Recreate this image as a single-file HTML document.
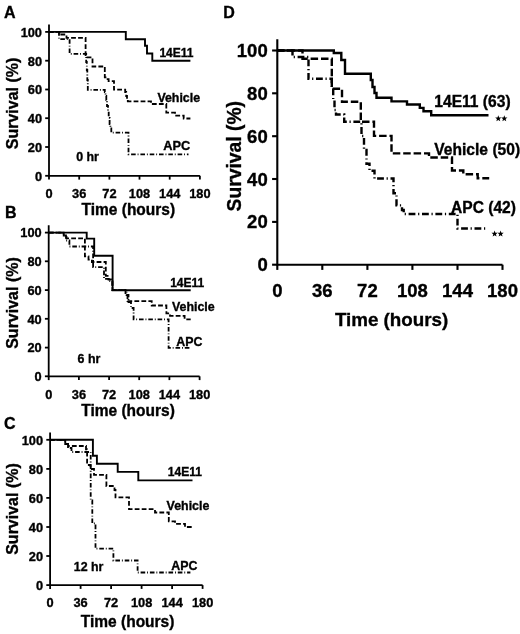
<!DOCTYPE html>
<html><head><meta charset="utf-8"><style>
html,body{margin:0;padding:0;background:#fff;}
svg{display:block;will-change:transform;}
text{font-family:"Liberation Sans", sans-serif;font-weight:bold;fill:#000;stroke:#000;stroke-width:0.35px;}
.tk{font-size:12.8px;}
.at{font-size:15.5px;}
.yt{font-size:16px;}
.ytD{font-size:19.3px;}
.cl{font-size:12.4px;}
.cla{font-size:12.8px;}
.cle{font-size:12px;}
.pl{font-size:16px;}
.tkD{font-size:18.5px;}
.atD{font-size:18.8px;}
.clD{font-size:15.6px;}
.stD{font-size:12px;}
.ax{stroke:#000;stroke-width:1.8;fill:none;}
.axD{stroke:#000;stroke-width:2.1;fill:none;}
.s{stroke:#000;stroke-width:1.9;fill:none;}
.d{stroke:#000;stroke-width:1.8;fill:none;stroke-dasharray:4.8 2.2;}
.dd{stroke:#000;stroke-width:1.8;fill:none;stroke-dasharray:4.6 1.9 0.9 1.9;}
.sD{stroke:#000;stroke-width:2.4;fill:none;}
.dD{stroke:#000;stroke-width:2.4;fill:none;stroke-dasharray:7.5 2.9;}
.ddD{stroke:#000;stroke-width:2.4;fill:none;stroke-dasharray:6.8 2.7 1.2 2.7;}
</style></head><body>
<svg width="520" height="634" viewBox="0 0 520 634">
<path d="M49.0,24.5 V175.8 H199.9" class="ax"/>
<path d="M45.2,175.8 H49.0" class="ax"/>
<text x="42.0" y="180.6" class="tk" text-anchor="end">0</text>
<path d="M45.2,147.0 H49.0" class="ax"/>
<text x="42.0" y="151.8" class="tk" text-anchor="end">20</text>
<path d="M45.2,118.2 H49.0" class="ax"/>
<text x="42.0" y="123.0" class="tk" text-anchor="end">40</text>
<path d="M45.2,89.5 H49.0" class="ax"/>
<text x="42.0" y="94.3" class="tk" text-anchor="end">60</text>
<path d="M45.2,60.7 H49.0" class="ax"/>
<text x="42.0" y="65.5" class="tk" text-anchor="end">80</text>
<path d="M45.2,31.9 H49.0" class="ax"/>
<text x="42.0" y="36.7" class="tk" text-anchor="end">100</text>
<path d="M49.0,175.8 V179.6" class="ax"/>
<text x="49.0" y="198.3" class="tk" text-anchor="middle">0</text>
<path d="M79.2,175.8 V179.6" class="ax"/>
<text x="79.2" y="198.3" class="tk" text-anchor="middle">36</text>
<path d="M109.4,175.8 V179.6" class="ax"/>
<text x="109.4" y="198.3" class="tk" text-anchor="middle">72</text>
<path d="M139.5,175.8 V179.6" class="ax"/>
<text x="139.5" y="198.3" class="tk" text-anchor="middle">108</text>
<path d="M169.7,175.8 V179.6" class="ax"/>
<text x="169.7" y="198.3" class="tk" text-anchor="middle">144</text>
<path d="M199.9,175.8 V179.6" class="ax"/>
<text x="199.9" y="198.3" class="tk" text-anchor="middle">180</text>
<text transform="translate(128.3,215.2) scale(1,1.06)" class="at" text-anchor="middle">Time (hours)</text>
<text transform="translate(17.9,103.4) rotate(-90)" class="yt" text-anchor="middle">Survival (%)</text>
<path d="M49.0,31.9 L125.8,31.9 L125.8,39.2 L145.0,39.2 L145.0,45.8 L147.0,45.8 L147.0,53.5 L152.3,53.5 L152.3,60.7 L190.4,60.7" class="s"/>
<path d="M49.0,31.9 L59.5,31.9 L59.5,34.5 L66.5,34.5 L66.5,37.8 L85.6,37.8 L85.6,57.3 L92.5,57.3 L92.5,66.5 L104.8,66.5 L104.8,77.3 L106.6,77.3 L106.6,79.2 L108.6,79.2 L108.6,81.1 L114.0,81.1 L114.0,89.7 L125.2,89.7 L125.2,92.0 L126.2,92.0 L126.2,96.0 L127.0,96.0 L127.0,99.0 L127.8,99.0 L127.8,101.3 L151.0,101.3 L151.0,104.0 L166.3,104.0 L166.3,112.7 L175.0,112.7 L175.0,115.6 L183.7,115.6 L183.7,118.5 L190.4,118.5" class="d"/>
<path d="M49.0,31.9 L59.0,31.9 L59.0,39.2 L69.6,39.2 L69.6,53.8 L86.2,53.8 L86.2,62.0 L86.8,62.0 L86.8,70.0 L87.3,70.0 L87.3,80.0 L87.8,80.0 L87.8,89.8 L104.8,89.8 L104.8,92.0 L105.5,92.0 L105.5,96.0 L106.3,96.0 L106.3,100.0 L107.0,100.0 L107.0,106.0 L108.0,106.0 L108.0,111.0 L108.7,111.0 L108.7,118.0 L109.6,118.0 L109.6,124.0 L110.4,124.0 L110.4,128.5 L111.3,128.5 L111.3,132.7 L128.5,132.7 L128.5,154.4 L188.5,154.4" class="dd"/>
<text x="159.4" y="57.4" class="cle">14E11</text>
<text x="157.4" y="101.9" class="cl">Vehicle</text>
<text x="163.3" y="150.0" class="cla">APC</text>
<text x="76.2" y="161.4" class="cl">0 hr</text>
<path d="M48.7,225.2 V376.3 H199.6" class="ax"/>
<path d="M44.9,376.3 H48.7" class="ax"/>
<text x="41.7" y="381.1" class="tk" text-anchor="end">0</text>
<path d="M44.9,347.6 H48.7" class="ax"/>
<text x="41.7" y="352.4" class="tk" text-anchor="end">20</text>
<path d="M44.9,318.8 H48.7" class="ax"/>
<text x="41.7" y="323.6" class="tk" text-anchor="end">40</text>
<path d="M44.9,290.1 H48.7" class="ax"/>
<text x="41.7" y="294.9" class="tk" text-anchor="end">60</text>
<path d="M44.9,261.3 H48.7" class="ax"/>
<text x="41.7" y="266.1" class="tk" text-anchor="end">80</text>
<path d="M44.9,232.6 H48.7" class="ax"/>
<text x="41.7" y="237.4" class="tk" text-anchor="end">100</text>
<path d="M48.7,376.3 V380.1" class="ax"/>
<text x="48.7" y="398.9" class="tk" text-anchor="middle">0</text>
<path d="M78.9,376.3 V380.1" class="ax"/>
<text x="78.9" y="398.9" class="tk" text-anchor="middle">36</text>
<path d="M109.1,376.3 V380.1" class="ax"/>
<text x="109.1" y="398.9" class="tk" text-anchor="middle">72</text>
<path d="M139.2,376.3 V380.1" class="ax"/>
<text x="139.2" y="398.9" class="tk" text-anchor="middle">108</text>
<path d="M169.4,376.3 V380.1" class="ax"/>
<text x="169.4" y="398.9" class="tk" text-anchor="middle">144</text>
<path d="M199.6,376.3 V380.1" class="ax"/>
<text x="199.6" y="398.9" class="tk" text-anchor="middle">180</text>
<text transform="translate(128.0,416.4) scale(1,1.06)" class="at" text-anchor="middle">Time (hours)</text>
<text transform="translate(17.6,303.0) rotate(-90)" class="yt" text-anchor="middle">Survival (%)</text>
<path d="M49.0,232.6 L86.7,232.6 L86.7,238.6 L94.2,238.6 L94.2,255.7 L112.6,255.7 L112.6,290.2 L190.7,290.2" class="s"/>
<path d="M49.0,232.6 L63.7,232.6 L63.7,235.5 L66.5,235.5 L66.5,238.4 L84.9,238.4 L84.9,256.3 L88.5,256.3 L88.5,259.7 L91.9,259.7 L91.9,262.0 L105.8,262.0 L105.8,275.9 L108.5,275.9 L108.5,279.5 L112.4,279.5 L112.4,290.2 L125.5,290.2 L125.5,294.0 L127.5,294.0 L127.5,301.2 L151.7,301.2 L151.7,305.5 L166.4,305.5 L166.4,313.3 L170.0,313.3 L170.0,315.9 L184.6,315.9 L184.6,319.3 L190.7,319.3" class="d"/>
<path d="M49.0,232.6 L63.7,232.6 L63.7,235.5 L66.0,235.5 L66.0,240.5 L69.4,240.5 L69.4,246.5 L93.1,246.5 L93.1,267.2 L104.0,267.2 L104.0,278.8 L108.6,278.8 L108.6,281.1 L112.4,281.1 L112.4,290.2 L126.6,290.2 L126.6,295.0 L128.5,295.0 L128.5,302.0 L131.0,302.0 L131.0,308.0 L133.6,308.0 L133.6,319.3 L168.6,319.3 L168.6,347.9 L190.7,347.9" class="dd"/>
<text x="170.2" y="286.8" class="cle">14E11</text>
<text x="172.0" y="311.0" class="cl">Vehicle</text>
<text x="176.2" y="345.7" class="cl">APC</text>
<text x="77.6" y="363.0" class="cl">6 hr</text>
<path d="M50.1,432.4 V585.1 H202.6" class="ax"/>
<path d="M46.3,585.1 H50.1" class="ax"/>
<text x="43.1" y="589.9" class="tk" text-anchor="end">0</text>
<path d="M46.3,556.0 H50.1" class="ax"/>
<text x="43.1" y="560.8" class="tk" text-anchor="end">20</text>
<path d="M46.3,527.0 H50.1" class="ax"/>
<text x="43.1" y="531.8" class="tk" text-anchor="end">40</text>
<path d="M46.3,497.9 H50.1" class="ax"/>
<text x="43.1" y="502.7" class="tk" text-anchor="end">60</text>
<path d="M46.3,468.9 H50.1" class="ax"/>
<text x="43.1" y="473.7" class="tk" text-anchor="end">80</text>
<path d="M46.3,439.8 H50.1" class="ax"/>
<text x="43.1" y="444.6" class="tk" text-anchor="end">100</text>
<path d="M50.1,585.1 V588.9" class="ax"/>
<text x="50.1" y="607.3" class="tk" text-anchor="middle">0</text>
<path d="M80.6,585.1 V588.9" class="ax"/>
<text x="80.6" y="607.3" class="tk" text-anchor="middle">36</text>
<path d="M111.1,585.1 V588.9" class="ax"/>
<text x="111.1" y="607.3" class="tk" text-anchor="middle">72</text>
<path d="M141.6,585.1 V588.9" class="ax"/>
<text x="141.6" y="607.3" class="tk" text-anchor="middle">108</text>
<path d="M172.1,585.1 V588.9" class="ax"/>
<text x="172.1" y="607.3" class="tk" text-anchor="middle">144</text>
<path d="M202.6,585.1 V588.9" class="ax"/>
<text x="202.6" y="607.3" class="tk" text-anchor="middle">180</text>
<text transform="translate(127.6,627.1) scale(1,1.06)" class="at" text-anchor="middle">Time (hours)</text>
<text transform="translate(17.9,509.0) rotate(-90)" class="yt" text-anchor="middle">Survival (%)</text>
<path d="M50.1,439.8 L92.9,439.8 L92.9,455.8 L96.9,455.8 L96.9,463.8 L117.7,463.8 L117.7,471.9 L138.3,471.9 L138.3,480.4 L192.5,480.4" class="s"/>
<path d="M50.1,439.8 L65.2,439.8 L65.2,442.5 L68.0,442.5 L68.0,446.0 L86.0,446.0 L86.0,449.4 L87.1,449.4 L87.1,465.0 L90.5,465.0 L90.5,469.0 L94.0,469.0 L94.0,474.8 L106.4,474.8 L106.4,486.0 L114.5,486.0 L114.5,490.0 L115.5,490.0 L115.5,497.4 L129.0,497.4 L129.0,509.2 L155.0,509.2 L155.0,512.5 L168.8,512.5 L168.8,521.3 L175.0,521.3 L175.0,523.8 L185.0,523.8 L185.0,527.0 L193.8,527.0" class="d"/>
<path d="M50.1,439.8 L65.2,439.8 L65.2,444.0 L68.0,444.0 L68.0,448.0 L71.5,448.0 L71.5,452.0 L90.7,452.0 L90.7,500.5 L92.3,500.5 L92.3,523.4 L95.5,523.4 L95.5,548.7 L113.4,548.7 L113.4,560.5 L137.6,560.5 L137.6,572.5 L190.4,572.5" class="dd"/>
<text x="167.8" y="476.3" class="cle">14E11</text>
<text x="166.6" y="510.2" class="cl">Vehicle</text>
<text x="171.2" y="569.5" class="cl">APC</text>
<text x="73.8" y="570.7" class="cl">12 hr</text>
<path d="M277.3,39.2 V264.7 H502.5" class="axD"/>
<path d="M272.1,264.7 H277.3" class="axD"/>
<text x="267.7" y="271.2" class="tkD" text-anchor="end">0</text>
<path d="M272.1,221.9 H277.3" class="axD"/>
<text x="267.7" y="228.4" class="tkD" text-anchor="end">20</text>
<path d="M272.1,179.0 H277.3" class="axD"/>
<text x="267.7" y="185.5" class="tkD" text-anchor="end">40</text>
<path d="M272.1,136.2 H277.3" class="axD"/>
<text x="267.7" y="142.7" class="tkD" text-anchor="end">60</text>
<path d="M272.1,93.3 H277.3" class="axD"/>
<text x="267.7" y="99.8" class="tkD" text-anchor="end">80</text>
<path d="M272.1,50.5 H277.3" class="axD"/>
<text x="267.7" y="57.0" class="tkD" text-anchor="end">100</text>
<path d="M277.3,264.7 V269.9" class="axD"/>
<text x="277.3" y="297.1" class="tkD" text-anchor="middle">0</text>
<path d="M322.3,264.7 V269.9" class="axD"/>
<text x="322.3" y="297.1" class="tkD" text-anchor="middle">36</text>
<path d="M367.4,264.7 V269.9" class="axD"/>
<text x="367.4" y="297.1" class="tkD" text-anchor="middle">72</text>
<path d="M412.4,264.7 V269.9" class="axD"/>
<text x="412.4" y="297.1" class="tkD" text-anchor="middle">108</text>
<path d="M457.5,264.7 V269.9" class="axD"/>
<text x="457.5" y="297.1" class="tkD" text-anchor="middle">144</text>
<path d="M502.5,264.7 V269.9" class="axD"/>
<text x="502.5" y="297.1" class="tkD" text-anchor="middle">180</text>
<text transform="translate(391.6,326.2) scale(1,1)" class="atD" text-anchor="middle">Time (hours)</text>
<text transform="translate(241.3,156.2) rotate(-90)" class="ytD" text-anchor="middle">Survival (%)</text>
<path d="M277.3,50.5 L333.8,50.5 L333.8,53.0 L341.3,53.0 L341.3,60.0 L345.0,60.0 L345.0,73.8 L370.8,73.8 L370.8,80.0 L372.5,80.0 L372.5,87.0 L374.5,87.0 L374.5,93.0 L376.5,93.0 L376.5,97.8 L391.5,97.8 L391.5,101.4 L407.0,101.4 L407.0,104.5 L419.8,104.5 L419.8,107.9 L423.5,107.9 L423.5,111.2 L431.2,111.2 L431.2,115.3 L488.5,115.3" class="sD"/>
<path d="M277.3,50.5 L302.5,50.5 L302.5,58.8 L331.8,58.8 L331.8,88.8 L342.0,88.8 L342.0,101.8 L360.8,101.8 L360.8,121.8 L374.0,121.8 L374.0,135.9 L391.5,135.9 L391.5,153.4 L429.0,153.4 L429.0,157.5 L452.0,157.5 L452.0,170.5 L463.3,170.5 L463.3,174.2 L477.7,174.2 L477.7,178.3 L489.2,178.3" class="dD"/>
<path d="M277.3,50.5 L292.5,50.5 L292.5,57.0 L308.5,57.0 L308.5,78.8 L331.8,78.8 L331.8,88.0 L333.2,88.0 L333.2,100.0 L334.5,100.0 L334.5,110.0 L336.0,110.0 L336.0,114.5 L344.2,114.5 L344.2,121.8 L361.5,121.8 L361.5,136.0 L364.0,136.0 L364.0,150.0 L366.5,150.0 L366.5,163.8 L369.5,163.8 L369.5,170.7 L374.5,170.7 L374.5,178.5 L393.5,178.5 L393.5,193.2 L396.5,193.2 L396.5,205.4 L402.0,205.4 L402.0,210.0 L403.7,210.0 L403.7,214.0 L457.5,214.0 L457.5,228.5 L485.4,228.5" class="ddD"/>
<text x="434.3" y="106.9" class="clD">14E11 (63)</text>
<text x="434.3" y="155.2" class="clD">Vehicle (50)</text>
<text x="451.0" y="212.6" class="clD">APC (42)</text>
<polygon points="498.30,115.30 499.12,117.47 501.44,117.58 499.63,119.03 500.24,121.27 498.30,120.00 496.36,121.27 496.97,119.03 495.16,117.58 497.48,117.47" fill="#000"/>
<polygon points="504.30,115.30 505.12,117.47 507.44,117.58 505.63,119.03 506.24,121.27 504.30,120.00 502.36,121.27 502.97,119.03 501.16,117.58 503.48,117.47" fill="#000"/>
<polygon points="494.60,230.50 495.42,232.67 497.74,232.78 495.93,234.23 496.54,236.47 494.60,235.20 492.66,236.47 493.27,234.23 491.46,232.78 493.78,232.67" fill="#000"/>
<polygon points="500.60,230.50 501.42,232.67 503.74,232.78 501.93,234.23 502.54,236.47 500.60,235.20 498.66,236.47 499.27,234.23 497.46,232.78 499.78,232.67" fill="#000"/>
<text x="4" y="18.2" class="pl">A</text>
<text x="4.9" y="217.9" class="pl">B</text>
<text x="4" y="428.6" class="pl">C</text>
<text x="223.3" y="18.2" class="pl">D</text>
</svg>
</body></html>
